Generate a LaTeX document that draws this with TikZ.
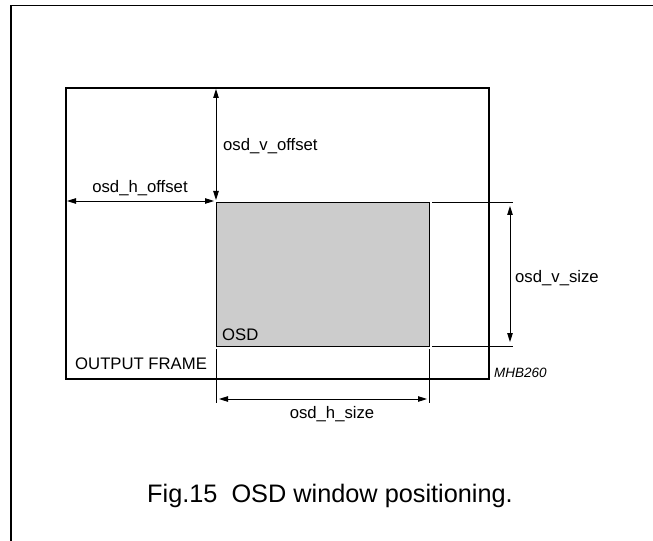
\documentclass[tikz,border=0pt]{standalone}
\usepackage{fontspec}
\setmainfont{Liberation Sans}
\usetikzlibrary{arrows.meta}
\begin{document}
\begin{tikzpicture}[x=1bp,y=-1bp,
  lbl/.style={inner sep=0pt,font=\fontsize{16.7bp}{18bp}\selectfont},
  dimarrow/.style={line width=0.9bp,{Triangle[length=9bp,width=5.5bp]}-{Triangle[length=9bp,width=5.5bp]}},
  extline/.style={line width=0.6bp},
  framebox/.style={line width=2bp},
  osdbox/.style={line width=1.2bp,fill=black!20}]
\useasboundingbox (0,0) rectangle (653,541);
% outer page border (left and top only visible)
\draw[line width=1.5bp] (11,541) -- (11,5.5) -- (653,5.5);
% output frame
\node[framebox,draw,minimum width=423bp,minimum height=291bp,inner sep=0pt,anchor=north west] (frame) at (65,87) {};
% OSD box
\node[osdbox,draw,minimum width=213bp,minimum height=144bp,inner sep=0pt,anchor=north west] (osd) at (216,202) {};
% coordinates
\coordinate (vtop) at (216,89);
\coordinate (vbot) at (216,200);
\coordinate (hl) at (67,201);
\coordinate (hr) at (214,201);
\coordinate (e1a) at (432,202);
\coordinate (e1b) at (513,202);
\coordinate (e2a) at (432,346);
\coordinate (e2b) at (513,346);
\coordinate (vs1) at (510,206);
\coordinate (vs2) at (510,342);
\coordinate (d1a) at (216,349);
\coordinate (d1b) at (216,403);
\coordinate (d2a) at (429,349);
\coordinate (d2b) at (429,403);
\coordinate (hs1) at (219,399);
\coordinate (hs2) at (427,399);
% dimension arrows
\draw[dimarrow] (vtop) -- (vbot);
\draw[dimarrow] (hl) -- (hr);
\draw[dimarrow] (vs1) -- (vs2);
\draw[dimarrow] (hs1) -- (hs2);
% extension lines
\draw[extline] (e1a) -- (e1b);
\draw[extline] (e2a) -- (e2b);
\draw[extline] (d1a) -- (d1b);
\draw[extline] (d2a) -- (d2b);
% labels
\node[lbl,anchor=base west] (lvoff) at (223,151) {osd\_v\_offset};
\node[lbl,anchor=base] (lhoff) at (140,193) {osd\_h\_offset};
\node[lbl,anchor=base west] (lvsize) at (515,282) {osd\_v\_size};
\node[lbl,anchor=base west] (losd) at (222,340) {OSD};
\node[lbl,anchor=base west] (lframe) at (75,369) {OUTPUT FRAME};
\node[inner sep=0pt,anchor=base west,font=\fontsize{13.5bp}{15bp}\selectfont\itshape] (lmhb) at (494,377) {MHB260};
\node[lbl,anchor=base] (lhsize) at (332,418) {osd\_h\_size};
\node[inner sep=0pt,anchor=base,font=\fontsize{25.3bp}{27bp}\selectfont] (cap) at (330,502) {Fig.15\ \ OSD window positioning.};
\end{tikzpicture}
\end{document}
